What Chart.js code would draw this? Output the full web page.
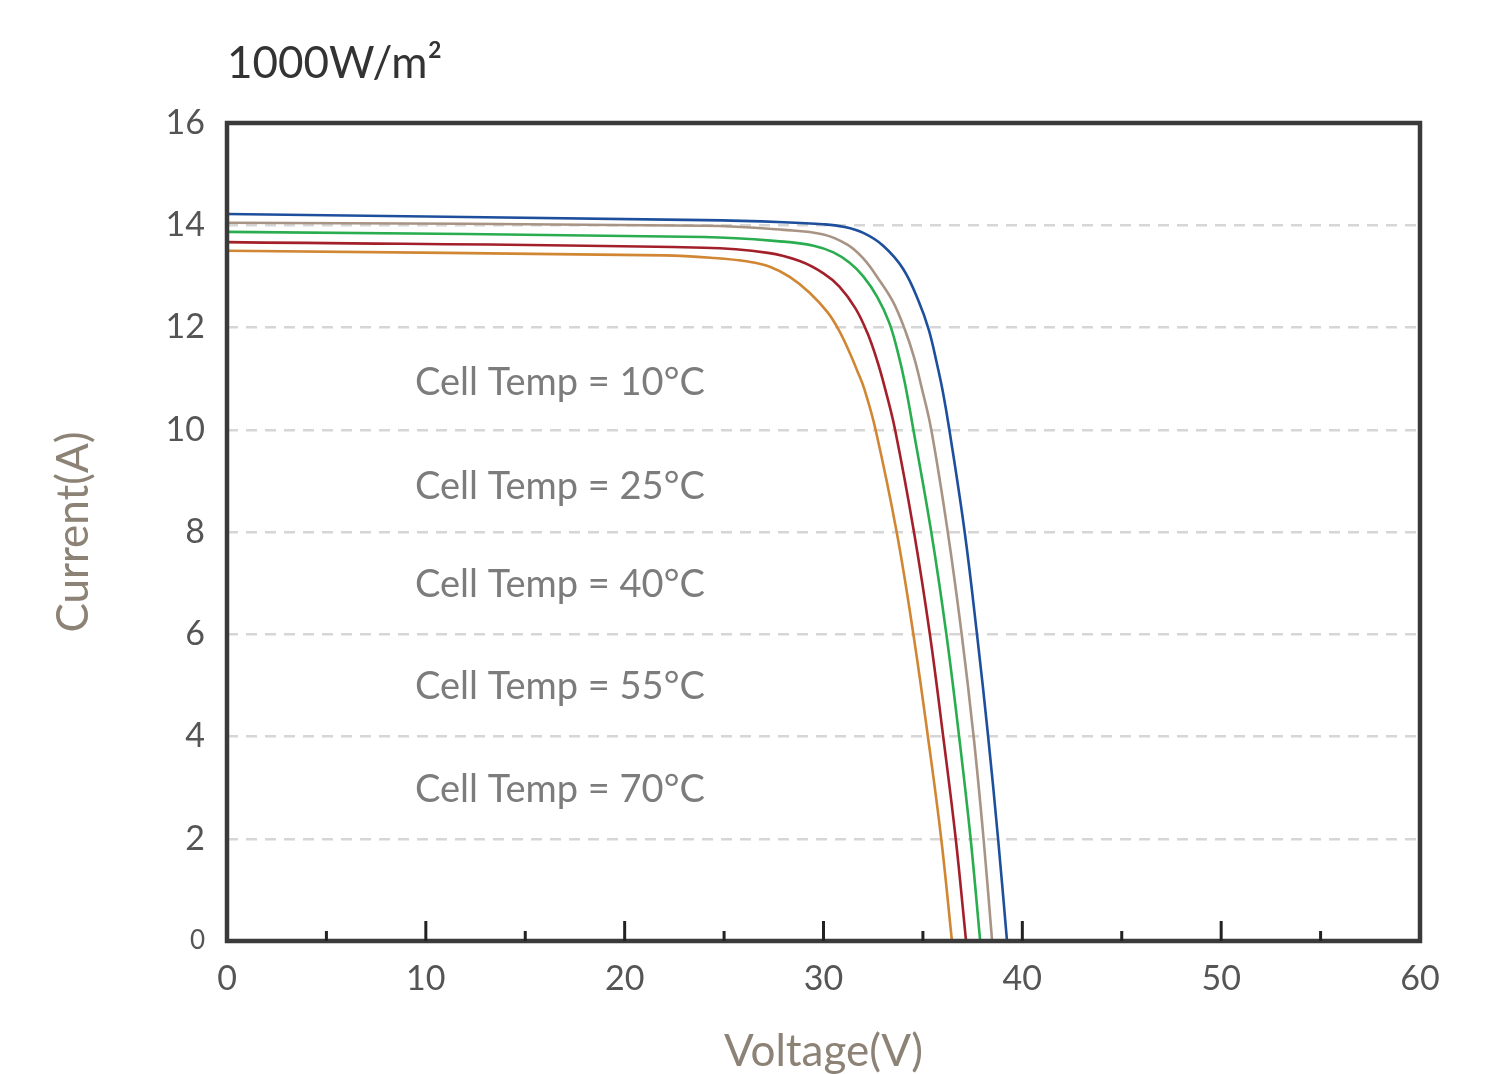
<!DOCTYPE html>
<html>
<head>
<meta charset="utf-8">
<title>IV curves</title>
<script src="https://cdn.jsdelivr.net/npm/chart.js@4/dist/chart.umd.min.js"></script>
<style>
  body { margin: 0; background: #fff; }
  #wrap { width: 1489px; height: 1074px; }
</style>
</head>
<body>
<div id="wrap"><canvas id="chart" width="1489" height="1074"></canvas></div>
<script>
// --- Data (Voltage V, Current A) ---
const temps = [10, 25, 40, 55, 70];

const volt10 = [0, 24, 28, 30, 31, 32, 33, 34, 34.8, 35.3, 35.7, 36.0, 36.33, 37.1, 37.72, 38.28, 38.78, 39.23];
const curr10 = [14.22, 14.10, 14.06, 14.02, 13.97, 13.85, 13.60, 13.15, 12.50, 11.95, 11.30, 10.75, 10.0, 8, 6, 4, 2, 0];

const volt25 = [0, 24, 28, 30, 31.2, 32, 32.8, 33.5, 34.1, 34.55, 34.92, 35.42, 36.25, 36.95, 37.55, 38.05, 38.48];
const curr25 = [14.05, 13.99, 13.91, 13.82, 13.62, 13.35, 12.93, 12.50, 11.95, 11.42, 10.85, 10.0, 8, 6, 4, 2, 0];

const volt40 = [0, 24, 28, 29.5, 30.5, 31.3, 32, 32.7, 33.3, 33.75, 34.1, 34.52, 35.42, 36.18, 36.82, 37.4, 37.88];
const curr40 = [13.87, 13.77, 13.68, 13.60, 13.47, 13.27, 13.00, 12.60, 12.10, 11.50, 10.90, 10.0, 8, 6, 4, 2, 0];

const volt55 = [0, 24, 27.2, 28.8, 30, 30.8, 31.6, 32.2, 32.7, 33.1, 33.6, 34.55, 35.35, 36.02, 36.65, 37.17];
const curr55 = [13.67, 13.56, 13.46, 13.30, 13.06, 12.80, 12.38, 11.90, 11.35, 10.80, 10.0, 8, 6, 4, 2, 0];

const volt70 = [0, 22, 24.5, 26.2, 27.3, 28.3, 29.3, 30.2, 30.8, 31.3, 31.7, 32.05, 32.62, 33.68, 34.52, 35.25, 35.92, 36.46];
const curr70 = [13.50, 13.41, 13.36, 13.29, 13.19, 12.99, 12.68, 12.30, 11.93, 11.52, 11.15, 10.80, 10.0, 8, 6, 4, 2, 0];

const xMajorTicks = [0, 10, 20, 30, 40, 50, 60];
const xMinorTicks = [5, 15, 25, 35, 45, 55];
const yTicks = [0, 2, 4, 6, 8, 10, 12, 14, 16];

const seriesColors = ['#1e4f9c', '#a89484', '#2aad4f', '#a3202a', '#d08633'];
const tempLabels = temps.map(t => `Cell Temp = ${t}°C`);
// where the temperature notes sit, in axis units
const noteVolt = 9.45;
const noteCurr = [10.67, 8.65, 6.72, 4.73, 2.72];

const FONT = "Lato, 'Open Sans', sans-serif";

function toPoints(v, c) {
    return v.map((x, i) => ({ x: x, y: c[i] }));
}

const allVolt = [volt10, volt25, volt40, volt55, volt70];
const allCurr = [curr10, curr25, curr40, curr55, curr70];

const datasets = temps.map((t, i) => ({
    label: tempLabels[i],
    data: toPoints(allVolt[i], allCurr[i]),
    borderColor: seriesColors[i],
    borderWidth: 2.6,
    pointRadius: 0,
    fill: false,
    tension: 0.4
}));
// draw the 10°C curve on top like the reference
datasets.reverse();

// --- frame, inner ticks, notes and heading ---
const decorPlugin = {
    id: 'decor',
    afterDatasetsDraw(chart) {
        const { ctx, chartArea: a, scales } = chart;
        const xs = scales.x, ys = scales.y;
        ctx.save();

        // frame
        ctx.strokeStyle = '#3a3a3a';
        ctx.lineWidth = 4.5;
        ctx.strokeRect(a.left, a.top, a.right - a.left, a.bottom - a.top);

        // x ticks pointing into the plot
        ctx.strokeStyle = '#222';
        ctx.lineWidth = 3;
        xMajorTicks.slice(1, -1).forEach(v => {
            const px = xs.getPixelForValue(v);
            ctx.beginPath(); ctx.moveTo(px, a.bottom); ctx.lineTo(px, a.bottom - 20); ctx.stroke();
        });
        xMinorTicks.forEach(v => {
            const px = xs.getPixelForValue(v);
            ctx.beginPath(); ctx.moveTo(px, a.bottom); ctx.lineTo(px, a.bottom - 10); ctx.stroke();
        });

        // temperature notes
        ctx.fillStyle = '#7c7c7c';
        ctx.font = `38px ${FONT}`;
        ctx.textAlign = 'left';
        ctx.textBaseline = 'alphabetic';
        tempLabels.forEach((txt, i) => {
            ctx.fillText(txt, xs.getPixelForValue(noteVolt), ys.getPixelForValue(noteCurr[i]));
        });

        // heading
        ctx.fillStyle = '#333';
        ctx.font = `44px ${FONT}`;
        ctx.fillText('1000W/m²', a.left, 78);
        ctx.restore();
    }
};

const ctx = document.getElementById('chart').getContext('2d');
new Chart(ctx, {
    type: 'line',
    data: { datasets: datasets },
    options: {
        responsive: false,
        animation: false,
        layout: { padding: { top: 123, right: 69, left: 0, bottom: 0 } },
        plugins: {
            legend: { display: false },
            tooltip: { enabled: false }
        },
        scales: {
            x: {
                type: 'linear',
                min: 0,
                max: 60,
                afterFit: s => { s.height = 133; },
                afterBuildTicks: s => { s.ticks = xMajorTicks.map(v => ({ value: v })); },
                grid: { display: false, drawTicks: false },
                border: { display: false },
                ticks: { color: '#555', font: { family: FONT, size: 34 }, padding: 18, maxRotation: 0 },
                title: {
                    display: true,
                    text: 'Voltage(V)',
                    color: '#8c8276',
                    font: { family: FONT, size: 44, lineHeight: 1 },
                    padding: { top: 0, bottom: 0 }
                }
            },
            y: {
                min: 0,
                max: 16,
                afterFit: s => { s.width = 227; },
                afterBuildTicks: s => { s.ticks = yTicks.map(v => ({ value: v })); },
                grid: {
                    color: ctx => (ctx.tick && (ctx.tick.value === 0 || ctx.tick.value === 16)) ? 'rgba(0,0,0,0)' : '#d6d6d6',
                    lineWidth: 2.5,
                    drawTicks: false
                },
                border: { display: false, dash: [11, 8] },
                ticks: {
                    color: '#555',
                    font: c => ({ family: FONT, size: (c.tick && c.tick.value === 0) ? 26 : 34 }),
                    padding: 22
                },
                title: {
                    display: true,
                    text: 'Current(A)',
                    color: '#8c8276',
                    font: { family: FONT, size: 44, lineHeight: 1 },
                    padding: { top: 52, bottom: 0 }
                }
            }
        }
    },
    plugins: [decorPlugin]
});
</script>
</body>
</html>
